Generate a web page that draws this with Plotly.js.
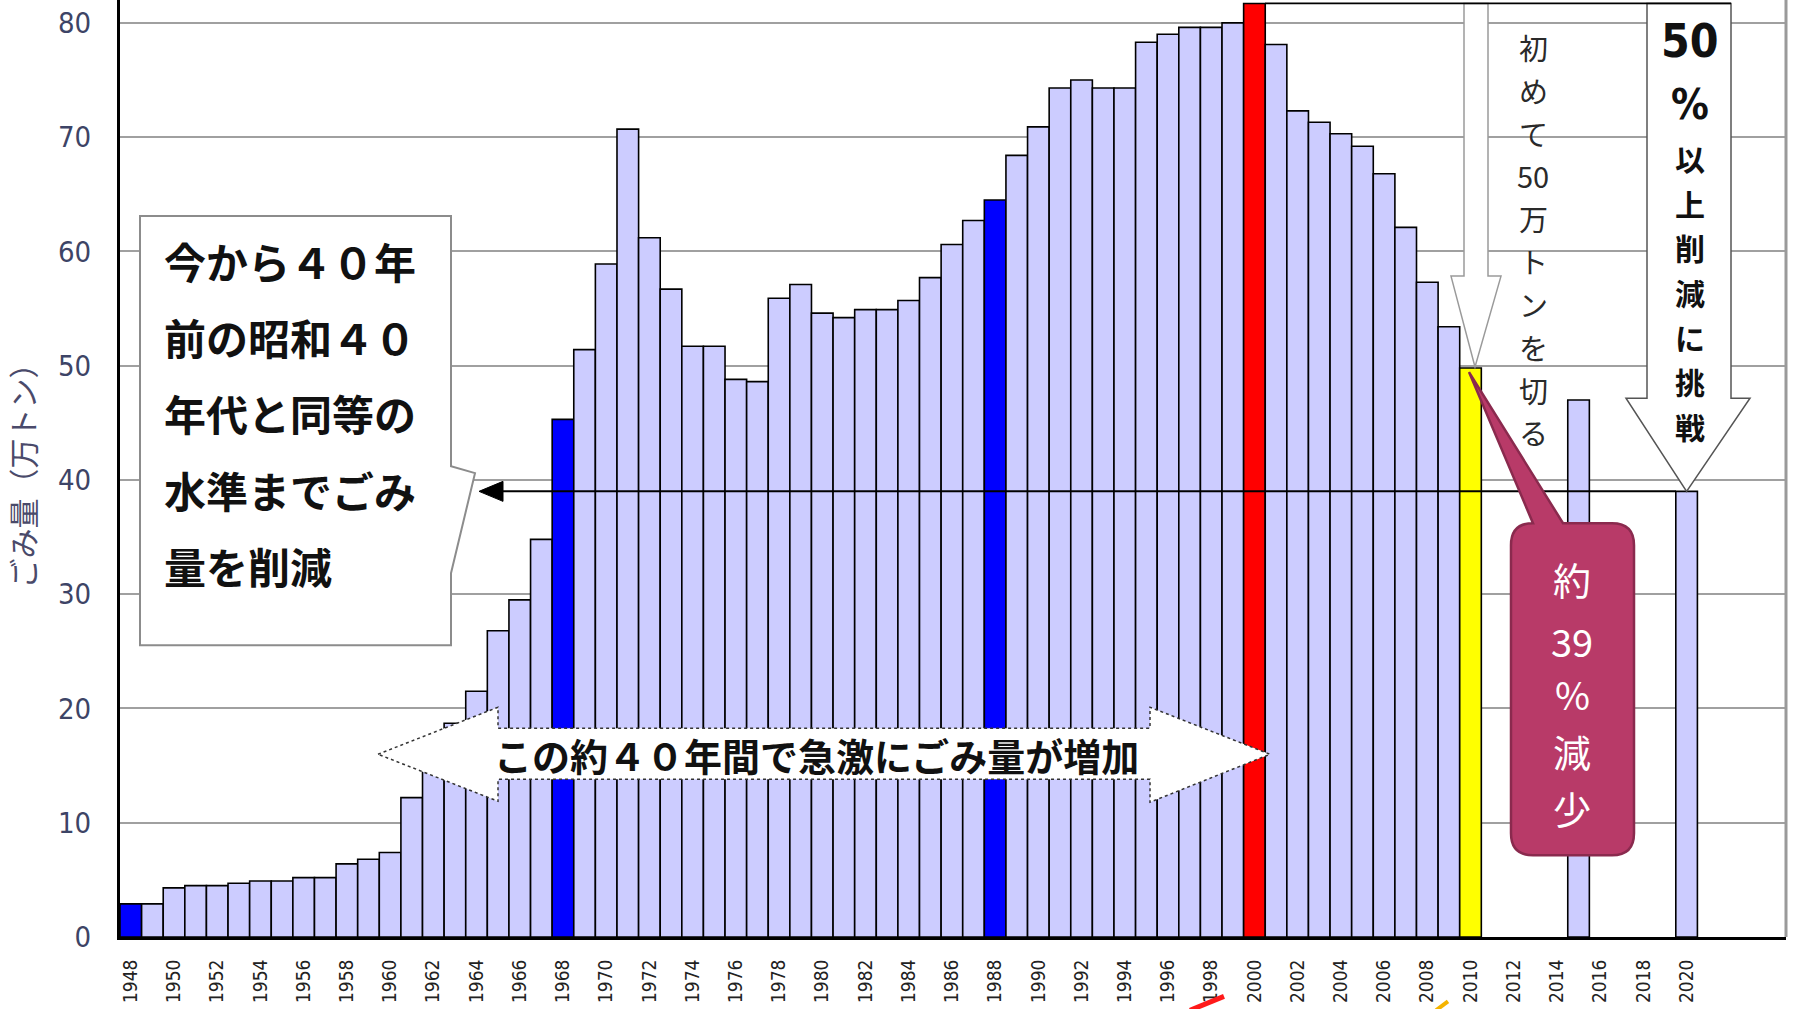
<!DOCTYPE html>
<html><head><meta charset="utf-8">
<script src="https://cdn.plot.ly/plotly-3.0.1.min.js"></script>
<style>html,body{margin:0;padding:0;background:#fff;}#chart{width:1796px;height:1009px;}</style>
</head><body><div id="chart"></div>
<script>
// ---- data (万トン) ----
const years = [1948,1949,1950,1951,1952,1953,1954,1955,1956,1957,1958,1959,1960,1961,1962,1963,1964,1965,1966,1967,1968,1969,1970,1971,1972,1973,1974,1975,1976,1977,1978,1979,1980,1981,1982,1983,1984,1985,1986,1987,1988,1989,1990,1991,1992,1993,1994,1995,1996,1997,1998,1999,2000,2001,2002,2003,2004,2005,2006,2007,2008,2009,2010,2015,2020];
const waste = [2.9,2.9,4.3,4.5,4.5,4.7,4.9,4.9,5.2,5.2,6.4,6.8,7.4,12.2,15.6,18.7,21.5,26.8,29.5,34.8,45.3,51.4,58.9,70.7,61.2,56.7,51.7,51.7,48.8,48.6,55.9,57.1,54.6,54.2,54.9,54.9,55.7,57.7,60.6,62.7,64.5,68.4,70.9,74.3,75.0,74.3,74.3,78.3,79.0,79.6,79.6,80.0,81.7,78.1,72.3,71.3,70.3,69.2,66.8,62.1,57.3,53.4,49.8,47.0,39.0];
const tickYears = [1948,1950,1952,1954,1956,1958,1960,1962,1964,1966,1968,1970,1972,1974,1976,1978,1980,1982,1984,1986,1988,1990,1992,1994,1996,1998,2000,2002,2004,2006,2008,2010,2012,2014,2016,2018,2020];
const yTicks = [0,10,20,30,40,50,60,70,80];
const boxLines = ['今から４０年','前の昭和４０','年代と同等の','水準までごみ','量を削減'];
const arrowText = 'この約４０年間で急激にごみ量が増加';
const firstText = ['初','め','て','50','万','ト','ン','を','切','る'];
const goalNum = '50';
const goalPct = '%';
const goalText = ['以','上','削','減','に','挑','戦'];
const dropText = ['約','39','%','減','少'];
const yTitle = 'ごみ量（万トン）';

// ---- styles ----
const highlight = {1948:'#0000ff',1968:'#0000ff',1988:'#0000ff',2000:'#ff0000',2010:'#ffff00'};
const baseColor = '#ccccff';
const NARROW = "'Liberation Sans Narrow','DejaVu Sans Condensed','Arial Narrow','Liberation Sans',sans-serif";
const CJK = "'Noto Sans CJK JP','Noto Sans',sans-serif";

// ---- geometry ----
const W=1796,H=1009,L=120,R=10,T=0,B=72.3;
const xr=[1947.5,2024.6], yr=[0,82];
const pw=W-L-R, ph=H-T-B;
const X = px => xr[0]+(px-L)*(xr[1]-xr[0])/pw;
const Y = py => yr[1]-(py-T)*(yr[1]-yr[0])/ph;
const xpx = d => L+(d-xr[0])*pw/(xr[1]-xr[0]);
const ypx = v => T+(yr[1]-v)*ph/(yr[1]-yr[0]);
const PX = px => (px-L)/pw, PY = py => (H-B-py)/ph;
function path(cmds){
  return cmds.map(c => c[0] + (c.length>1 ? ' '+c.slice(1).map(p=>X(p[0])+','+Y(p[1])).join(' ') : '')).join(' ');
}
const val = y => waste[years.indexOf(y)];
const v2000 = val(2000), v2010 = val(2010), v2020 = val(2020);

const colors = years.map(y => highlight[y] || baseColor);

const trace = {
  type:'bar', x:years, y:waste,
  marker:{color:colors, line:{color:'#000', width:1.6}},
  hoverinfo:'x+y', showlegend:false
};

const shapes = [];
// right plot border
shapes.push({type:'line',xref:'paper',yref:'paper',x0:1,x1:1,y0:0,y1:1,line:{color:'#9a9a9a',width:3}});
// left callout box
shapes.push({type:'path',xref:'x',yref:'y',fillcolor:'#fff',line:{color:'#8c8c8c',width:2},
  path:path([['M',[140,216]],['L',[451,216]],['L',[451,466]],['L',[475,473]],['L',[451,573]],['L',[451,645]],['L',[140,645]],['Z']])});
// horizontal target line at 2020 value with arrowhead
const y39 = ypx(v2020);
shapes.push({type:'line',xref:'x',yref:'y',x0:X(500),x1:2019.5,y0:v2020,y1:v2020,line:{color:'#000',width:2}});
shapes.push({type:'path',xref:'x',yref:'y',fillcolor:'#000',line:{color:'#000',width:1},
  path:path([['M',[479,y39]],['L',[503,y39-10]],['L',[503,y39+10]],['Z']])});
// big double arrow
shapes.push({type:'path',xref:'x',yref:'y',fillcolor:'#fff',line:{color:'#333',width:1.5,dash:'dot'},
  path:path([['M',[378,754]],['L',[498,707]],['L',[498,728]],['L',[1150,728]],['L',[1150,707]],['L',[1270,754]],['L',[1150,802]],['L',[1150,779]],['L',[498,779]],['L',[498,801]],['Z']])});
const yTop = ypx(v2000);
// vertical arrow "初めて50万トンを切る"
shapes.push({type:'path',xref:'x',yref:'y',fillcolor:'#fff',line:{color:'#9a9a9a',width:1.5},
  path:path([['M',[1464,yTop]],['L',[1488,yTop]],['L',[1488,276]],['L',[1501,276]],['L',[1475,ypx(v2010)-1]],['L',[1451,276]],['L',[1464,276]],['Z']])});
// goal arrow box
shapes.push({type:'path',xref:'x',yref:'y',fillcolor:'#fff',line:{color:'#555',width:1.5},
  path:path([['M',[1647,yTop]],['L',[1731,yTop]],['L',[1731,398]],['L',[1750,398]],['L',[xpx(2020),y39]],['L',[1626,398]],['L',[1647,398]],['Z']])});
shapes.push({type:'line',xref:'x',yref:'y',x0:2000.5,x1:X(1731),y0:v2000,y1:v2000,line:{color:'#000',width:1.8}});
// magenta callout
shapes.push({type:'path',xref:'x',yref:'y',fillcolor:'#b83a68',line:{color:'#8a2a4e',width:2.5},
  path:path([['M',[1533,523]],['L',[1469,372]],['L',[1563,523]],['L',[1612,523]],['Q',[1634,523],[1634,545]],['L',[1634,833]],['Q',[1634,855],[1612,855]],['L',[1533,855]],['Q',[1511,855],[1511,833]],['L',[1511,545]],['Q',[1511,523],[1533,523]],['Z']])});
// stray cut-off marks at bottom
shapes.push({type:'line',xref:'paper',yref:'paper',x0:PX(1190),y0:PY(1010),x1:PX(1224),y1:PY(996),line:{color:'#ff1a1a',width:5}});
shapes.push({type:'line',xref:'paper',yref:'paper',x0:PX(1436),y0:PY(1010),x1:PX(1448),y1:PY(1001),line:{color:'#f5b400',width:4}});

const annotations = [];
const boxY = [260,336,412,489,565];
boxLines.forEach((t,i)=>annotations.push({xref:'x',yref:'y',x:X(162),y:Y(boxY[i]),xanchor:'left',yanchor:'middle',showarrow:false,text:'<b>'+t+'</b>',font:{family:CJK,size:42,color:'#111'}}));
annotations.push({xref:'x',yref:'y',x:X(816),y:Y(754),xanchor:'center',yanchor:'middle',showarrow:false,text:'<b>'+arrowText+'</b>',font:{family:CJK,size:38,color:'#111'}});
// vertical text "初めて50万トンを切る", one character per row
firstText.forEach((t,i)=>annotations.push({xref:'x',yref:'y',x:X(1533),y:Y(47+i*42.8),xanchor:'center',yanchor:'middle',showarrow:false,
  text:t,font:{family:CJK,size:29,color:'#2a2a2a'}}));
annotations.push({xref:'x',yref:'y',x:X(1690),y:Y(41),xanchor:'center',yanchor:'middle',showarrow:false,
  text:'<b>'+goalNum+'</b>',font:{family:NARROW,size:46,color:'#111'}});
annotations.push({xref:'x',yref:'y',x:X(1690),y:Y(104),xanchor:'center',yanchor:'middle',showarrow:false,
  text:'<b>'+goalPct+'</b>',font:{family:NARROW,size:42,color:'#111'}});
goalText.forEach((t,i)=>annotations.push({xref:'x',yref:'y',x:X(1690),y:Y(158+i*44.6),xanchor:'center',yanchor:'middle',showarrow:false,
  text:'<b>'+t+'</b>',font:{family:CJK,size:30,color:'#111'}}));
const dropY = [578,640,693,750,807];
dropText.forEach((t,i)=>annotations.push({xref:'x',yref:'y',x:X(1572),y:Y(dropY[i]),xanchor:'center',yanchor:'middle',showarrow:false,text:t,
  font:{family:CJK,size:38,color:'#fff'}}));

const layout = {
  width:W,height:H,margin:{l:L,r:R,t:T,b:B,pad:0},
  paper_bgcolor:'#fff',plot_bgcolor:'#fff',
  bargap:0,showlegend:false,
  xaxis:{range:xr,tickmode:'array',tickvals:tickYears,ticktext:tickYears.map(String),tickangle:-90,
    tickfont:{family:NARROW,size:19,color:'#222'},ticks:'',ticklabelstandoff:12,
    showline:true,linecolor:'#000',linewidth:3,showgrid:false,zeroline:false,fixedrange:true},
  yaxis:{range:yr,tickmode:'array',tickvals:yTicks,ticktext:yTicks.map(String),
    tickfont:{family:NARROW,size:29,color:'#3d4466'},ticks:'',ticklabelstandoff:20,
    showline:true,linecolor:'#000',linewidth:3,showgrid:true,gridcolor:'#a0a0a0',gridwidth:2,zeroline:false,fixedrange:true,
    title:{text:yTitle,font:{family:CJK,size:30,color:'#4a4a6a'},standoff:14}},
  shapes:shapes, annotations:annotations
};
Plotly.newPlot('chart',[trace],layout,{displayModeBar:false,staticPlot:true});
</script></body></html>
